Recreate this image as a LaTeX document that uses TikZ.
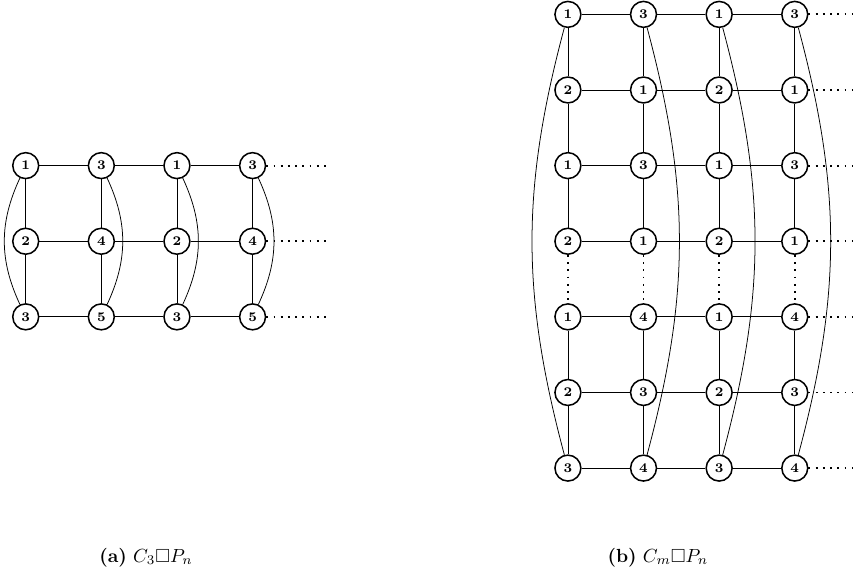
\documentclass[tikz,border=0pt]{standalone}
\usepackage{amsmath,amssymb}
\usepackage{tikz}

\begin{document}
\begin{tikzpicture}[>=latex,x=1.4cm,y=1.4cm,
  vtx/.style={circle,draw,thick,inner sep=0pt,minimum size=0.48cm,font=\scriptsize\bfseries},
  more/.style={line width=1pt,dash pattern=on 1pt off 2.8pt}]
\useasboundingbox (0,0) rectangle (11.28,-7.59);
% left graph
\node[vtx] (a11) at (0.34,-2.19) {1};
\node[vtx] (a12) at (1.34,-2.19) {3};
\node[vtx] (a13) at (2.34,-2.19) {1};
\node[vtx] (a14) at (3.34,-2.19) {3};
\node[vtx] (a21) at (0.34,-3.19) {2};
\node[vtx] (a22) at (1.34,-3.19) {4};
\node[vtx] (a23) at (2.34,-3.19) {2};
\node[vtx] (a24) at (3.34,-3.19) {4};
\node[vtx] (a31) at (0.34,-4.19) {3};
\node[vtx] (a32) at (1.34,-4.19) {5};
\node[vtx] (a33) at (2.34,-4.19) {3};
\node[vtx] (a34) at (3.34,-4.19) {5};
\coordinate (ae1) at (4.31,-2.19);
\coordinate (ae2) at (4.31,-3.19);
\coordinate (ae3) at (4.31,-4.19);
\draw (a11) -- (a12) -- (a13) -- (a14);
\draw (a21) -- (a22) -- (a23) -- (a24);
\draw (a31) -- (a32) -- (a33) -- (a34);
\draw (a11) -- (a21) -- (a31);
\draw (a12) -- (a22) -- (a32);
\draw (a13) -- (a23) -- (a33);
\draw (a14) -- (a24) -- (a34);
\draw (a11) to[bend right=25] (a31);
\draw (a12) to[bend left=25] (a32);
\draw (a13) to[bend left=25] (a33);
\draw (a14) to[bend left=25] (a34);
\draw[more] (a14) -- (ae1);
\draw[more] (a24) -- (ae2);
\draw[more] (a34) -- (ae3);
\node (capa) at (1.93,-7.37) {\textbf{(a)} $C_3\square P_n$};
% right graph
\node[vtx] (b11) at (7.51,-0.19) {1};
\node[vtx] (b12) at (8.51,-0.19) {3};
\node[vtx] (b13) at (9.51,-0.19) {1};
\node[vtx] (b14) at (10.51,-0.19) {3};
\node[vtx] (b21) at (7.51,-1.19) {2};
\node[vtx] (b22) at (8.51,-1.19) {1};
\node[vtx] (b23) at (9.51,-1.19) {2};
\node[vtx] (b24) at (10.51,-1.19) {1};
\node[vtx] (b31) at (7.51,-2.19) {1};
\node[vtx] (b32) at (8.51,-2.19) {3};
\node[vtx] (b33) at (9.51,-2.19) {1};
\node[vtx] (b34) at (10.51,-2.19) {3};
\node[vtx] (b41) at (7.51,-3.19) {2};
\node[vtx] (b42) at (8.51,-3.19) {1};
\node[vtx] (b43) at (9.51,-3.19) {2};
\node[vtx] (b44) at (10.51,-3.19) {1};
\node[vtx] (b51) at (7.51,-4.19) {1};
\node[vtx] (b52) at (8.51,-4.19) {4};
\node[vtx] (b53) at (9.51,-4.19) {1};
\node[vtx] (b54) at (10.51,-4.19) {4};
\node[vtx] (b61) at (7.51,-5.19) {2};
\node[vtx] (b62) at (8.51,-5.19) {3};
\node[vtx] (b63) at (9.51,-5.19) {2};
\node[vtx] (b64) at (10.51,-5.19) {3};
\node[vtx] (b71) at (7.51,-6.19) {3};
\node[vtx] (b72) at (8.51,-6.19) {4};
\node[vtx] (b73) at (9.51,-6.19) {3};
\node[vtx] (b74) at (10.51,-6.19) {4};
\coordinate (be1) at (11.28,-0.19);
\coordinate (be2) at (11.28,-1.19);
\coordinate (be3) at (11.28,-2.19);
\coordinate (be4) at (11.28,-3.19);
\coordinate (be5) at (11.28,-4.19);
\coordinate (be6) at (11.28,-5.19);
\coordinate (be7) at (11.28,-6.19);
\draw (b11) -- (b12) -- (b13) -- (b14);
\draw (b21) -- (b22) -- (b23) -- (b24);
\draw (b31) -- (b32) -- (b33) -- (b34);
\draw (b41) -- (b42) -- (b43) -- (b44);
\draw (b51) -- (b52) -- (b53) -- (b54);
\draw (b61) -- (b62) -- (b63) -- (b64);
\draw (b71) -- (b72) -- (b73) -- (b74);
\draw (b11) -- (b21) -- (b31) -- (b41);
\draw (b12) -- (b22) -- (b32) -- (b42);
\draw (b13) -- (b23) -- (b33) -- (b43);
\draw (b14) -- (b24) -- (b34) -- (b44);
\draw[more] (b41) -- (b51);
\draw[more] (b42) -- (b52);
\draw[more] (b43) -- (b53);
\draw[more] (b44) -- (b54);
\draw (b51) -- (b61) -- (b71);
\draw (b52) -- (b62) -- (b72);
\draw (b53) -- (b63) -- (b73);
\draw (b54) -- (b64) -- (b74);
\draw (b11) to[bend right=15] (b71);
\draw (b12) to[bend left=15] (b72);
\draw (b13) to[bend left=15] (b73);
\draw (b14) to[bend left=15] (b74);
\draw[more] (b14) -- (be1);
\draw[more] (b24) -- (be2);
\draw[more] (b34) -- (be3);
\draw[more] (b44) -- (be4);
\draw[more] (b54) -- (be5);
\draw[more] (b64) -- (be6);
\draw[more] (b74) -- (be7);
\node (capb) at (8.70,-7.37) {\textbf{(b)} $C_m\square P_n$};
\end{tikzpicture}
\end{document}
